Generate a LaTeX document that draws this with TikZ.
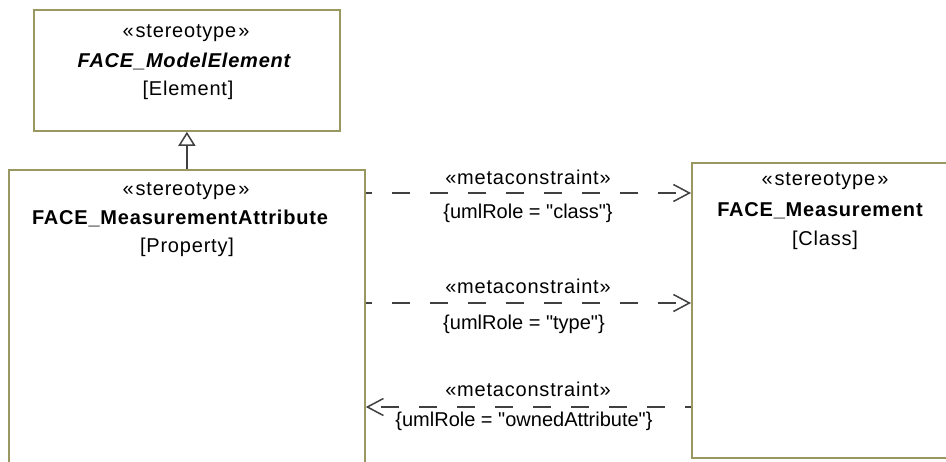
\documentclass[tikz,border=0pt]{standalone}
\usepackage{fontspec}
\setmainfont{Liberation Sans}
\newfontfamily\lsf{Liberation Sans}
\newfontfamily\lsfw{Liberation Sans}[LetterSpace=4]
\usetikzlibrary{arrows.meta}
\definecolor{boxline}{RGB}{152,152,96}
\definecolor{conline}{RGB}{64,64,64}
\begin{document}
\begin{tikzpicture}[x=1pt,y=-1pt,
  box/.style={draw=boxline, line width=1.8pt, fill=white, inner sep=0pt},
  txt/.style={inner sep=0pt, anchor=base, font=\lsf\fontsize{20}{24}\selectfont},
  wtxt/.style={inner sep=0pt, anchor=base, font=\lsfw\fontsize{20}{24}\selectfont},
  btxt/.style={inner sep=0pt, anchor=base, font=\lsfw\fontsize{20}{24}\selectfont\bfseries},
  bitxt/.style={inner sep=0pt, anchor=base, font=\lsfw\fontsize{20}{24}\selectfont\bfseries\itshape},
  dep/.style={draw=conline, line width=1.5pt, dash pattern=on 18pt off 20pt, dash phase=12pt,
    -{Straight Barb[length=16pt,width=17pt,line width=1.5pt]}},
  gen/.style={draw=conline, line width=1.5pt,
    -{Triangle[open,length=14pt,width=17pt,line width=1.5pt,fill=white]}}]
\useasboundingbox (0,0) rectangle (946,461);
\clip (0,0) rectangle (946,461);
\fill[white] (0,0) rectangle (946,461);

% boxes
\node[box, anchor=north west, minimum width=306pt, minimum height=121pt] (top) at (33,9) {};
\node[box, anchor=north west, minimum width=356pt, minimum height=400pt] (left) at (8,169) {};
\node[box, anchor=north west, minimum width=264pt, minimum height=295pt] (right) at (691,162) {};

% top box texts
\node[wtxt] (t1) at (186,37) {«\hspace{2pt}stereotype\hspace{2pt}»};
\node[bitxt] (t2) at (184,67) {FACE\_ModelElement};
\node[wtxt] (t3) at (188,95) {[Element]};

% left box texts
\node[wtxt] (l1) at (186,195) {«\hspace{2pt}stereotype\hspace{2pt}»};
\node[btxt] (l2) at (180,224) {FACE\_MeasurementAttribute};
\node[wtxt] (l3) at (187,252) {[Property]};

% right box texts
\node[wtxt] (r1t) at (825,185) {«\hspace{2pt}stereotype\hspace{2pt}»};
\node[btxt] (r2t) at (820,216) {FACE\_Measurement};
\node[wtxt] (r3t) at (825,245) {[Class]};

% generalization
\draw[gen] (left.north) -- (top.south);

% dependencies
\coordinate (y1) at (0,193);
\coordinate (y2) at (0,303);
\coordinate (y3) at (0,407);
\draw[dep] (left.east |- y1) -- (right.west |- y1);
\draw[dep] (left.east |- y2) -- (right.west |- y2);
\draw[dep] (right.west |- y3) -- (left.east |- y3);

% labels
\node[wtxt] (m1) at (528,184) {«metaconstraint»};
\node[txt] (c1) at (528,218) {\{umlRole = "class"\}};
\node[wtxt] (m2) at (528,293) {«metaconstraint»};
\node[txt] (c2) at (524,329) {\{umlRole = "type"\}};
\node[wtxt] (m3) at (528,396) {«metaconstraint»};
\node[txt] (c3) at (524,426) {\{umlRole = "ownedAttribute"\}};
\end{tikzpicture}
\end{document}
